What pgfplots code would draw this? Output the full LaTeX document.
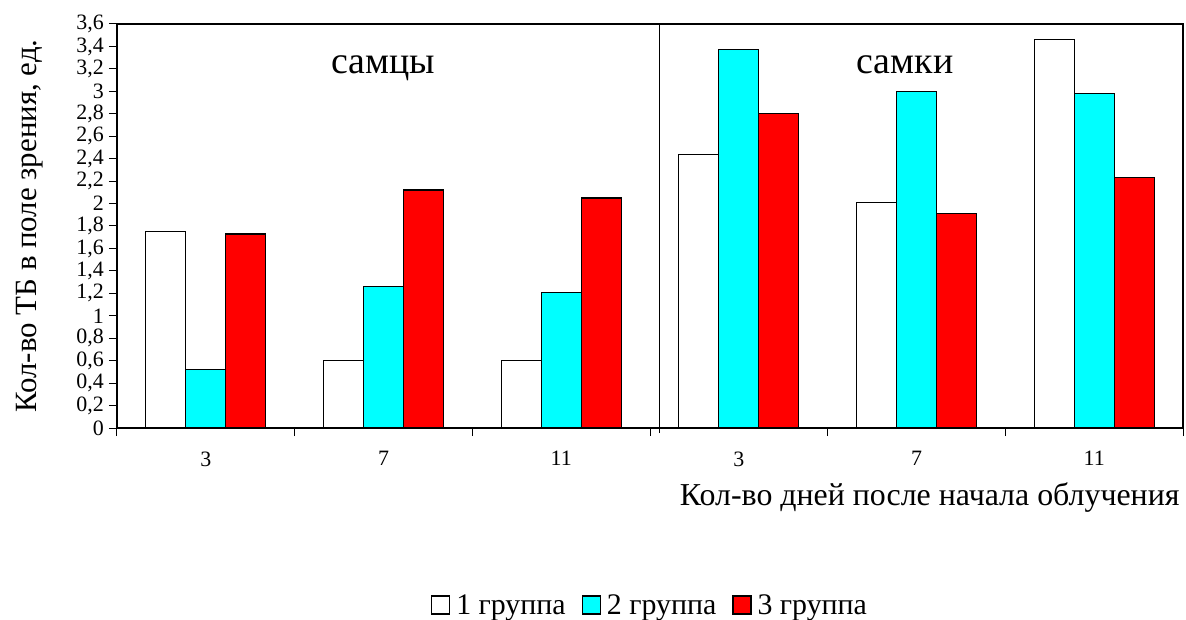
\documentclass[border=0pt]{standalone}
\usepackage{fontspec}
\setmainfont{Liberation Serif}
\usepackage{pgfplots}
\pgfplotsset{compat=1.18}
\definecolor{grcyan}{RGB}{0,255,255}
\definecolor{grred}{RGB}{255,0,0}
\newcommand{\fs}[1]{\fontsize{#1}{#1}\selectfont}
\begin{document}
\begin{tikzpicture}
\begin{axis}[name=ax,
    scale only axis,
    width=1066bp, height=404bp,
    ybar=0pt, bar width=40bp,
    xmin=-0.5, xmax=5.5, ymin=0, ymax=3.6,
    enlargelimits=false,
    axis line style={line width=1.3bp},
    xtick={0,1,2,3,4,5},
    xticklabels={3,7,11,3,7,11},
    major x tick style={draw=none},
    minor xtick={-0.5,0.5,1.5,2.5,3.5,4.5,5.5},
    minor tick length=8bp, major tick length=8bp,
    tick align=outside,
    tick style={black, line width=1bp},
    xtick pos=bottom, ytick pos=left,
    ytick={0,0.2,0.4,0.6,0.8,1,1.2,1.4,1.6,1.8,2,2.2,2.4,2.6,2.8,3,3.2,3.4,3.6},
    /pgf/number format/assume math mode=true,
    /pgf/number format/use comma,
    yticklabel style={font=\fs{22}, xshift=-5bp, inner sep=0pt},
    xticklabel style={font=\fs{22}, yshift=-12bp},
    ylabel={Кол-во ТБ в поле зрения, ед.},
    ylabel style={font=\fs{31}, at={(axis description cs:-0.0816,0.5)}, anchor=center},
    xlabel={Кол-во дней после начала облучения},
    xlabel style={font=\fs{32}, at={(axis description cs:1,0)}, anchor=east, yshift=-70bp},
    legend style={at={(0.5,-0.438)}, anchor=center, draw=none, font=\fs{30},
        legend columns=3,
        /tikz/every even column/.append style={column sep=14bp}},
    legend image code/.code={
        \draw[#1, line width=1.2bp] (0bp,-9bp) rectangle (18bp,9bp);
        \path (22bp,0bp);},
    every axis plot/.append style={draw=black, line width=1.3bp},
    clip=false,
]
\addplot[fill=white] coordinates {(0,1.75) (1,0.60) (2,0.60) (3,2.44) (4,2.01) (5,3.46)};
\addplot[fill=grcyan] coordinates {(0,0.52) (1,1.26) (2,1.21) (3,3.37) (4,3.00) (5,2.98)};
\addplot[fill=grred] coordinates {(0,1.73) (1,2.12) (2,2.05) (3,2.80) (4,1.91) (5,2.23)};
\legend{1 группа, 2 группа, 3 группа}
\draw[line width=1.2bp] ([yshift=-5bp]axis cs:2.555,0) -- (axis cs:2.555,3.6);
\node[font=\fs{38}, anchor=base] at (axis cs:1.0,3.16) {самцы};
\node[font=\fs{38}, anchor=base] at (axis cs:3.935,3.16) {самки};
\end{axis}
\path ([xshift=-117bp,yshift=24bp]ax.north west) rectangle ([xshift=3bp,yshift=-191bp]ax.south east);
\end{tikzpicture}
\end{document}
